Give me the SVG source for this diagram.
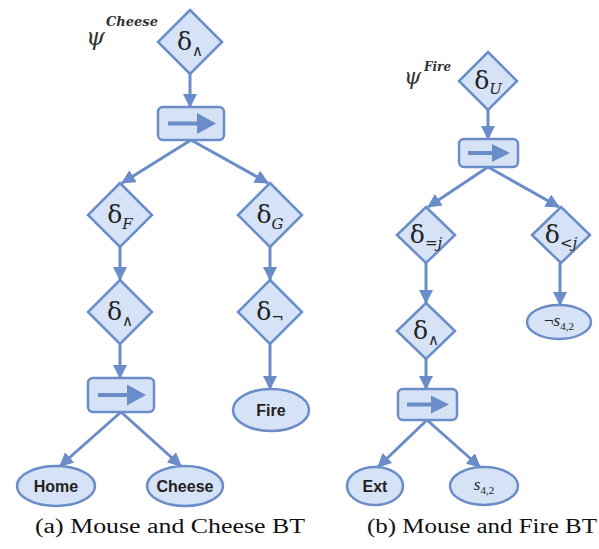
<svg xmlns="http://www.w3.org/2000/svg" width="599" height="549" viewBox="0 0 599 549">
<style>
.n{fill:#d6e3f6;stroke:#6a8cc8;stroke-width:2.5}
.c{stroke:#6a8cc8;stroke-width:3;fill:none}
.ia{stroke:#6a8cc8;stroke-width:4;fill:none}
.ih{fill:#6a8cc8;stroke:none}
.d{font-family:"DejaVu Serif","Liberation Serif",serif;font-size:25px;fill:#222;text-anchor:middle}
.sb{font-size:15px}
.lb{font-family:"Liberation Sans",Arial,sans-serif;font-weight:bold;font-size:16px;fill:#222;text-anchor:middle}
.m{font-family:"Liberation Serif",serif;font-style:italic;fill:#222;text-anchor:middle}
.cap{font-family:"Liberation Serif",serif;font-size:20px;fill:#111}
.psi{font-family:"DejaVu Serif","Liberation Serif",serif;font-style:italic;fill:#333}
</style>
<defs>
<marker id="ah" markerUnits="userSpaceOnUse" markerWidth="14" markerHeight="14" refX="13" refY="7" orient="auto">
<path d="M0,0 L14,7 L0,14 z" fill="#6a8cc8"/>
</marker>
</defs>

<g id="connectors">
<line class="c" x1="190" y1="74" x2="190" y2="107" marker-end="url(#ah)"/>
<line class="c" x1="191" y1="140" x2="122" y2="183" marker-end="url(#ah)"/>
<line class="c" x1="191" y1="140" x2="268" y2="183" marker-end="url(#ah)"/>
<line class="c" x1="120" y1="247" x2="120" y2="280" marker-end="url(#ah)"/>
<line class="c" x1="270" y1="247" x2="270" y2="280" marker-end="url(#ah)"/>
<line class="c" x1="120" y1="344" x2="120" y2="378" marker-end="url(#ah)"/>
<line class="c" x1="270" y1="344" x2="270" y2="389" marker-end="url(#ah)"/>
<line class="c" x1="121" y1="412" x2="60" y2="466" marker-end="url(#ah)"/>
<line class="c" x1="121" y1="412" x2="181" y2="466" marker-end="url(#ah)"/>

<line class="c" x1="488" y1="110" x2="488" y2="139" marker-end="url(#ah)"/>
<line class="c" x1="488" y1="167" x2="428" y2="207" marker-end="url(#ah)"/>
<line class="c" x1="488" y1="167" x2="559" y2="207" marker-end="url(#ah)"/>
<line class="c" x1="426" y1="263" x2="426" y2="303" marker-end="url(#ah)"/>
<line class="c" x1="560" y1="263" x2="560" y2="305" marker-end="url(#ah)"/>
<line class="c" x1="426" y1="358" x2="426" y2="389" marker-end="url(#ah)"/>
<line class="c" x1="427" y1="420" x2="378" y2="467" marker-end="url(#ah)"/>
<line class="c" x1="427" y1="420" x2="480" y2="467" marker-end="url(#ah)"/>
</g>

<g id="psi-cheese">
<text class="psi" x="86" y="45" font-size="24">ψ</text>
<text class="psi" x="106" y="26" font-size="13" font-weight="bold">Cheese</text>
</g>
<g id="psi-fire">
<text class="psi" x="404" y="84" font-size="22">ψ</text>
<text class="psi" x="424" y="71" font-size="12" font-weight="bold">Fire</text>
</g>

<g id="and-top">
<polygon class="n" points="190,10 222,42 190,74 158,42"/>
<text class="d" x="190" y="50">δ<tspan class="sb" dy="6">∧</tspan></text>
</g>
<g id="seq-top">
<rect class="n" x="158" y="107" width="66" height="33" rx="5"/>
<line class="ia" x1="168" y1="123.5" x2="200" y2="123.5"/>
<path class="ih" d="M197,113 L216,123.5 L197,134 z"/>
</g>
<g id="delta-F">
<polygon class="n" points="120,183 152,215 120,247 88,215"/>
<text class="d" x="120" y="223">δ<tspan class="sb" font-style="italic" dy="6">F</tspan></text>
</g>
<g id="delta-G">
<polygon class="n" points="270,183 302,215 270,247 238,215"/>
<text class="d" x="270" y="223">δ<tspan class="sb" font-style="italic" dy="6">G</tspan></text>
</g>
<g id="and-left">
<polygon class="n" points="120,280 152,312 120,344 88,312"/>
<text class="d" x="120" y="320">δ<tspan class="sb" dy="6">∧</tspan></text>
</g>
<g id="not-left">
<polygon class="n" points="270,280 302,312 270,344 238,312"/>
<text class="d" x="270" y="320">δ<tspan class="sb" dy="2">¬</tspan></text>
</g>
<g id="seq-left">
<rect class="n" x="88" y="378" width="66" height="34" rx="5"/>
<line class="ia" x1="98" y1="395" x2="130" y2="395"/>
<path class="ih" d="M127,384.5 L146,395 L127,405.5 z"/>
</g>
<g id="fire">
<ellipse class="n" cx="271" cy="410" rx="38" ry="21"/>
<text class="lb" x="271" y="416">Fire</text>
</g>
<g id="home">
<ellipse class="n" cx="56" cy="486" rx="39" ry="20"/>
<text class="lb" x="56" y="492">Home</text>
</g>
<g id="cheese">
<ellipse class="n" cx="185" cy="486" rx="38" ry="20"/>
<text class="lb" x="185" y="492">Cheese</text>
</g>

<g id="until">
<polygon class="n" points="488,52 517,81 488,110 459,81"/>
<text class="d" x="488" y="89">δ<tspan class="sb" font-style="italic" dy="5">U</tspan></text>
</g>
<g id="seq-right-top">
<rect class="n" x="459" y="139" width="59" height="28" rx="5"/>
<line class="ia" x1="468" y1="153" x2="495" y2="153"/>
<path class="ih" d="M492,144 L510,153 L492,162 z"/>
</g>
<g id="eq-j">
<polygon class="n" points="426,207 455,235 426,263 397,235"/>
<text class="d" x="426" y="243">δ<tspan class="sb" dy="5">=</tspan><tspan class="sb" font-style="italic">j</tspan></text>
</g>
<g id="lt-j">
<polygon class="n" points="561,207 590,235 561,263 532,235"/>
<text class="d" x="561" y="243">δ<tspan class="sb" dy="5">&lt;</tspan><tspan class="sb" font-style="italic">j</tspan></text>
</g>
<g id="and-right">
<polygon class="n" points="426,303 455,331 426,359 397,331"/>
<text class="d" x="426" y="339">δ<tspan class="sb" dy="6">∧</tspan></text>
</g>
<g id="not-s42">
<ellipse class="n" cx="559" cy="322" rx="32" ry="17"/>
<text class="m" x="559" y="326" font-size="17"><tspan font-style="normal">¬</tspan>s<tspan font-size="11" font-style="normal" dy="4">4,2</tspan></text>
</g>
<g id="seq-right">
<rect class="n" x="398" y="389" width="59" height="31" rx="5"/>
<line class="ia" x1="407" y1="404.5" x2="434" y2="404.5"/>
<path class="ih" d="M431,395.5 L449,404.5 L431,413.5 z"/>
</g>
<g id="ext">
<ellipse class="n" cx="375" cy="486" rx="28" ry="19"/>
<text class="lb" x="375" y="492">Ext</text>
</g>
<g id="s42">
<ellipse class="n" cx="484" cy="486" rx="34" ry="19"/>
<text class="m" x="484" y="490" font-size="17">s<tspan font-size="11" font-style="normal" dy="4">4,2</tspan></text>
</g>

<text class="cap" x="35" y="533" textLength="270" lengthAdjust="spacingAndGlyphs">(a) Mouse and Cheese BT</text>
<text class="cap" x="367" y="533" textLength="230" lengthAdjust="spacingAndGlyphs">(b) Mouse and Fire BT</text>
</svg>
